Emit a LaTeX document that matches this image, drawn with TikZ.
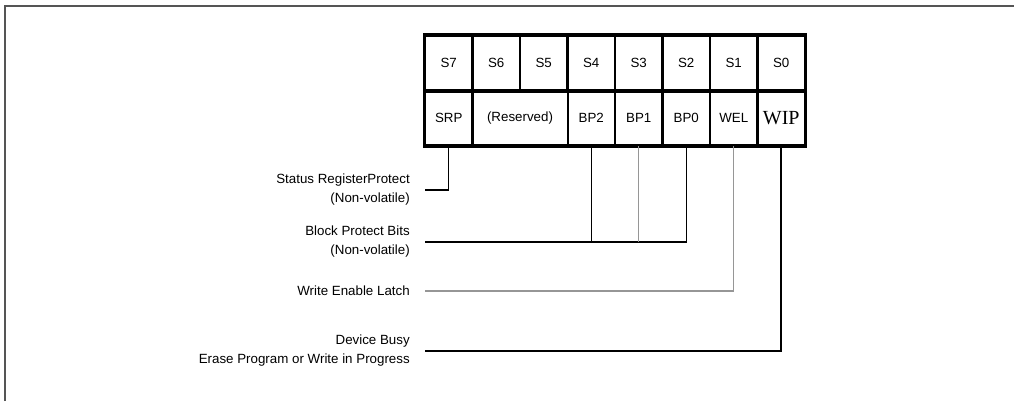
\documentclass[tikz,border=0pt]{standalone}
\usepackage{fontspec}
\setmainfont{Liberation Sans}
\newfontfamily\wipfont{Liberation Serif}
\usepackage{tikz}
\definecolor{framegray}{RGB}{85,85,85}
\definecolor{wiregray}{RGB}{150,150,150}
\tikzset{
  bitcell/.style={draw, line width=1.5pt, minimum width=35.6pt, minimum height=40.9pt, inner sep=0pt, font=\fontsize{10}{12}\selectfont},
  sidelabel/.style={anchor=east, align=right, inner xsep=11.25pt, inner ysep=0pt, font=\fontsize{10}{14.25}\selectfont},
  wire/.style={line width=0.9pt},
  greywire/.style={line width=1.1pt, wiregray},
  heavywire/.style={line width=1.5pt}
}
\newcommand{\drawheavy}{\draw[line width=2.25pt]}
\begin{document}
\begin{tikzpicture}[x=0.75pt,y=-0.75pt]
\useasboundingbox (0,0) rectangle (1014,401);
\draw[framegray, line width=1.1pt] (5,401) -- (5,6) -- (1014,6);
\foreach \lbl [count=\k from 0] in {S7,S6,S5,S4,S3,S2,S1,S0}{
  \node[bitcell] (top\k) at ({448.75+47.5*\k},63.25) {\lbl};
}
\node[bitcell] (srp) at (448.75,117.75) {SRP};
\node[bitcell, minimum width=71.25pt] (rsv) at (520,117.75) {(Reserved)};
\node[bitcell] (bp2) at (591.25,117.75) {BP2};
\node[bitcell] (bp1) at (638.75,117.75) {BP1};
\node[bitcell] (bp0) at (686.25,117.75) {BP0};
\node[bitcell] (wel) at (733.75,117.75) {WEL};
\node[bitcell, font=\wipfont\fontsize{15}{15}\selectfont] (wip) at (781.25,117.75) {WIP};
\drawheavy (top0.north west) rectangle (wip.south east);
\drawheavy (top0.south west) -- (top7.south east);
\node[sidelabel] (srplbl) at (425,190) {Status RegisterProtect\\(Non-volatile)};
\node[sidelabel] (bplbl) at (425,242) {Block Protect Bits\\(Non-volatile)};
\node[sidelabel] (wellbl) at (425,291) {Write Enable Latch};
\node[sidelabel] (wiplbl) at (425,351) {Device Busy\\Erase Program or Write in Progress};
\draw[wire] (srp.south) |- (srplbl.east);
\draw[wire] (bp0.south) |- (bplbl.east);
\draw[wire] (bp2.south) -- (bp2.south |- bplbl.east);
\draw[greywire] (bp1.south) -- (bp1.south |- bplbl.east);
\draw[greywire] (wel.south) |- (wellbl.east);
\draw[heavywire] (wip.south) |- (wiplbl.east);
\end{tikzpicture}
\end{document}
